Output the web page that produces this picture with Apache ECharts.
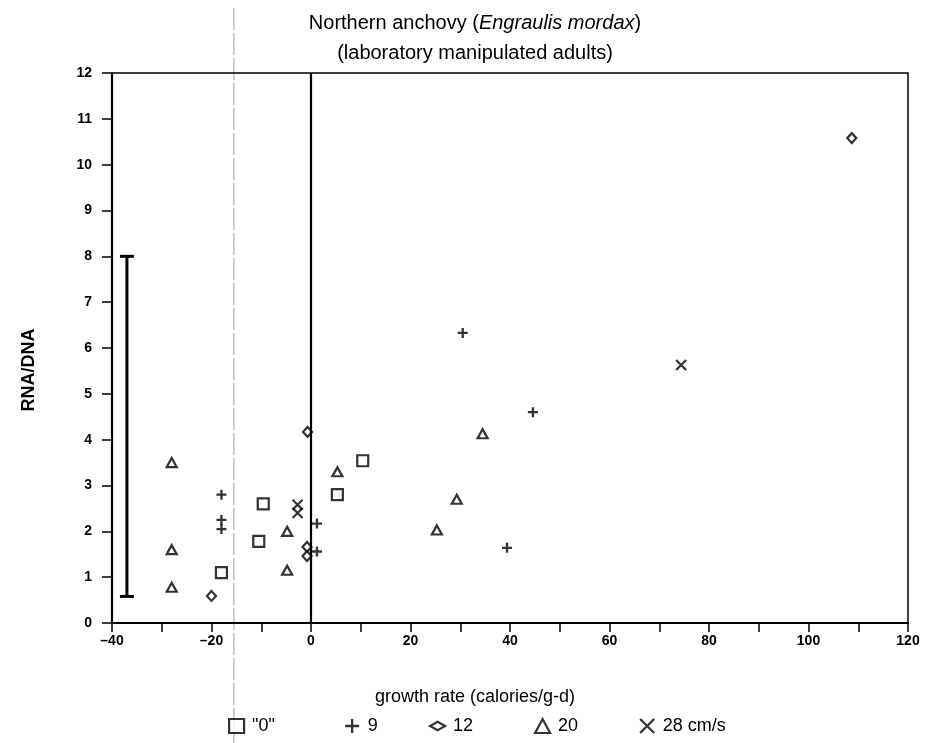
<!DOCTYPE html>
<html><head><meta charset="utf-8">
<script src="https://cdn.jsdelivr.net/npm/echarts@6/dist/echarts.min.js"></script>
<style>html,body{margin:0;padding:0;background:#fff}#c{width:926px;height:743px}</style>
</head><body><div id="c"></div>
<script>
// ---- data (growth rate, RNA/DNA) ----
const speed0  = [[-18,1.1],[-10.5,1.78],[-9.6,2.6],[5.3,2.8],[10.4,3.54]];
const speed9  = [[-18,2.8],[-18,2.25],[-18,2.05],[1.2,2.17],[1.2,1.56],[30.5,6.33],[44.6,4.6],[39.4,1.64]];
const speed12 = [[-20,0.59],[-0.7,4.17],[-0.8,1.66],[-0.8,1.46],[108.7,10.58]];
const speed20 = [[-28,3.5],[-28,1.6],[-28,0.78],[-4.8,2.0],[-4.8,1.15],[5.3,3.3],[34.5,4.13],[29.3,2.7],[25.3,2.03]];
const speed28 = [[-2.7,2.58],[-2.7,2.4],[74.4,5.63]];
const errorBar = [[-37,0.58,8.0]];
const seriesNames = ['"0"','9','12','20','28 cm/s'];
const xTicks = {min:-40,max:120,interval:10,labelEvery:20};
const yTicks = {min:0,max:12,interval:1};

const FONT = '"Liberation Sans", Arial, sans-serif';
const plusPath = 'path://M0,5L10,5M5,0L5,10';
const xPath = 'path://M0,0L10,10M10,0L0,10';
const diamondFlat = 'path://M0,5L9,0L18,5L9,10Z';

const chart = echarts.init(document.getElementById('c'), null, {renderer:'canvas'});
const hollow = {color:'#fff', borderColor:'#000', borderWidth:2.2};
const stroke = {color:'transparent', borderColor:'#000', borderWidth:2.3};

const option = {
  animation:false,
  backgroundColor:'#fff',
  title:[{
    text:'{a|Northern anchovy (}{i|Engraulis mordax}{a|)}\n{a|(laboratory manipulated adults)}',
    left:470, top:3, textAlign:'center',
    textStyle:{rich:{
      a:{fontFamily:FONT,fontSize:20,fontWeight:'normal',color:'#000',lineHeight:30},
      i:{fontFamily:FONT,fontSize:20,fontWeight:'normal',fontStyle:'italic',color:'#000',lineHeight:30}
    }}
  },{
    text:'growth rate (calories/g-d)', left:470, top:683, textAlign:'center',
    textStyle:{fontFamily:FONT,fontSize:18,fontWeight:'normal',color:'#000'}
  }],
  grid:{left:112,right:18,top:73,bottom:120,show:true,borderColor:'#000',borderWidth:1.5,backgroundColor:'transparent'},
  xAxis:{type:'value',min:xTicks.min,max:xTicks.max,interval:xTicks.interval,
    axisLine:{show:true,onZero:false,lineStyle:{color:'#000',width:2.2}},
    axisTick:{show:true,length:9,lineStyle:{color:'#000',width:1.5}},
    splitLine:{show:false},
    axisLabel:{color:'#000',fontFamily:FONT,fontWeight:'bold',fontSize:14,margin:11,
      formatter:v=> (v % xTicks.labelEvery===0) ? (v<0?'\u2013'+Math.abs(v):String(v)) : ''}
  },
  yAxis:{type:'value',min:yTicks.min,max:yTicks.max,interval:yTicks.interval,
    name:'RNA/DNA',nameLocation:'middle',nameGap:74,
    nameTextStyle:{fontFamily:FONT,fontWeight:'bold',fontSize:18,color:'#000',padding:[0,0,0,-44]},
    axisLine:{show:true,onZero:false,lineStyle:{color:'#000',width:2.2}},
    axisTick:{show:true,length:10,lineStyle:{color:'#000',width:1.5}},
    splitLine:{show:false},
    axisLabel:{color:'#000',fontFamily:FONT,fontWeight:'bold',fontSize:14,margin:20}
  },
  legend:[
    {data:[{name:seriesNames[0],icon:'rect',itemStyle:hollow}],left:223,top:712},
    {data:[{name:seriesNames[1],icon:plusPath,itemStyle:stroke}],left:339,top:712},
    {data:[{name:seriesNames[2],icon:diamondFlat,itemStyle:hollow}],left:424,top:712},
    {data:[{name:seriesNames[3],icon:'triangle',itemStyle:hollow}],left:529,top:712},
    {data:[{name:seriesNames[4],icon:xPath,itemStyle:stroke}],left:634,top:712}
  ].map(l=>Object.assign(l,{itemWidth:15,itemHeight:14,itemGap:0,
     textStyle:{fontFamily:FONT,fontSize:18,color:'#000',padding:[0,0,0,3]},
     selectedMode:false})),
  series:[
    {name:seriesNames[0],type:'scatter',data:speed0,symbol:'rect',symbolSize:11,itemStyle:hollow,
      markLine:{silent:true,symbol:['none','none'],label:{show:false},
        lineStyle:{color:'#000',width:2.2,type:'solid'},data:[{xAxis:0}]}},
    {name:seriesNames[1],type:'scatter',data:speed9,symbol:plusPath,symbolSize:10,itemStyle:stroke},
    {name:seriesNames[2],type:'scatter',data:speed12,symbol:'diamond',symbolSize:[9,10],itemStyle:hollow},
    {name:seriesNames[3],type:'scatter',data:speed20,symbol:'triangle',symbolSize:[10,9],itemStyle:hollow},
    {name:seriesNames[4],type:'scatter',data:speed28,symbol:xPath,symbolSize:10,itemStyle:stroke},
    {name:'errorbar',type:'custom',data:errorBar,silent:true,
      renderItem:function(params,api){
        const x=api.value(0), lo=api.value(1), hi=api.value(2);
        const p1=api.coord([x,lo]), p2=api.coord([x,hi]);
        const w=7, st={stroke:'#000',lineWidth:3};
        return {type:'group',children:[
          {type:'line',shape:{x1:p1[0],y1:p1[1],x2:p2[0],y2:p2[1]},style:st},
          {type:'line',shape:{x1:p1[0]-w,y1:p1[1],x2:p1[0]+w,y2:p1[1]},style:st},
          {type:'line',shape:{x1:p2[0]-w,y1:p2[1],x2:p2[0]+w,y2:p2[1]},style:st}
        ]};
      }}
  ]
};
chart.setOption(option);
// faint fold line of the scanned original
const foldX = chart.convertToPixel({xAxisIndex:0}, -15.5);
chart.setOption({graphic:[{type:'line',silent:true,z:-1,
  shape:{x1:foldX,y1:8,x2:foldX,y2:743},
  style:{stroke:'#777',lineWidth:0.7,lineDash:[22,3]}}]});
</script></body></html>
